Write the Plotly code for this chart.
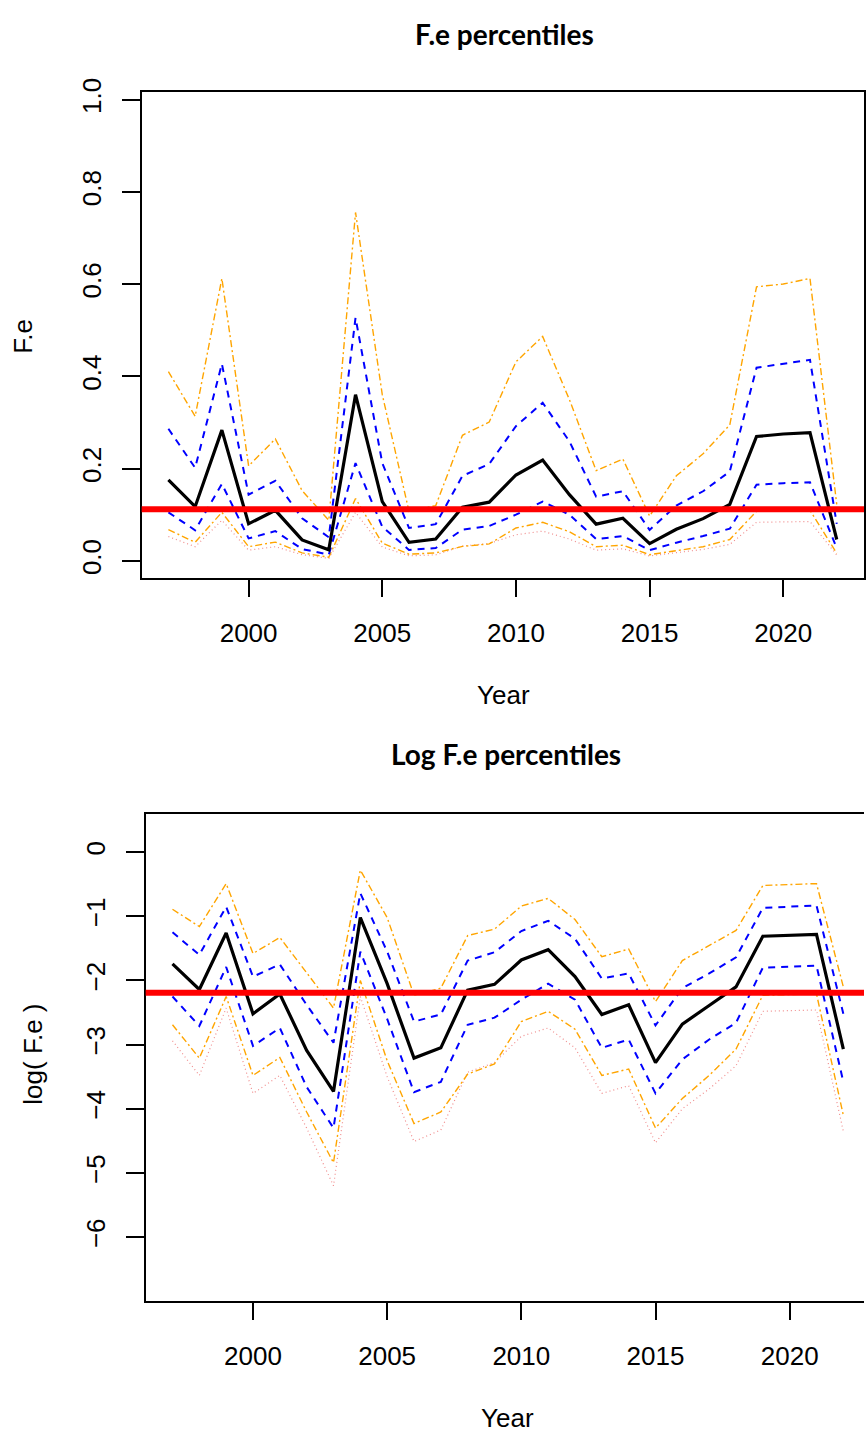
import numpy as np
import plotly.graph_objects as go

# ---- data: yearly percentiles of log(F.e) ----
years = list(range(1997, 2023))

log_p05 = [-2.94, -3.48, -2.43, -3.76, -3.48, -4.30, -5.20, -2.25, -3.50, -4.51,
           -4.33, -3.43, -3.28, -2.87, -2.74, -3.05, -3.76, -3.64, -4.53, -4.00,
           -3.69, -3.33, -2.48, -2.47, -2.46, -4.35]
log_p10 = [-2.69, -3.21, -2.25, -3.48, -3.20, -4.05, -4.84, -2.00, -3.25, -4.23,
           -4.05, -3.46, -3.30, -2.64, -2.48, -2.76, -3.48, -3.38, -4.30, -3.84,
           -3.48, -3.07, -2.23, -2.22, -2.21, -4.10]
log_p25 = [-2.25, -2.71, -1.79, -3.02, -2.74, -3.66, -4.30, -1.55, -2.60, -3.74,
           -3.58, -2.69, -2.58, -2.30, -2.05, -2.30, -3.05, -2.92, -3.76, -3.23,
           -2.92, -2.66, -1.80, -1.78, -1.77, -3.58]
log_p50 = [-1.74, -2.14, -1.26, -2.52, -2.21, -3.09, -3.73, -1.02, -2.05, -3.21,
           -3.05, -2.15, -2.06, -1.68, -1.52, -1.94, -2.53, -2.38, -3.28, -2.68,
           -2.39, -2.10, -1.31, -1.29, -1.28, -3.07]
log_p75 = [-1.25, -1.60, -0.85, -1.94, -1.75, -2.38, -2.97, -0.64, -1.55, -2.64,
           -2.53, -1.69, -1.56, -1.23, -1.07, -1.35, -1.97, -1.89, -2.70, -2.12,
           -1.89, -1.64, -0.87, -0.85, -0.83, -2.52]
log_p90 = [-0.89, -1.16, -0.49, -1.58, -1.33, -1.88, -2.43, -0.28, -1.02, -2.23,
           -2.12, -1.30, -1.20, -0.84, -0.72, -1.05, -1.63, -1.51, -2.33, -1.69,
           -1.46, -1.22, -0.52, -0.51, -0.49, -2.10]

f_ref = 0.112  # reference fishing mortality

x_ticks = [2000, 2005, 2010, 2015, 2020]
y_ticks_top = [0.0, 0.2, 0.4, 0.6, 0.8, 1.0]
y_ticks_top_text = ["0.0", "0.2", "0.4", "0.6", "0.8", "1.0"]
y_ticks_log = [0, -1, -2, -3, -4, -5, -6]
y_ticks_log_text = ["0", "\u22121", "\u22122", "\u22123", "\u22124", "\u22125", "\u22126"]

W, H = 866, 1433


def fx(p):
    return p / W


def fy(p):
    return 1 - p / H


styles = [
    (log_p05, dict(color="rgb(240,140,140)", width=1.2, dash="1px,3px")),
    (log_p10, dict(color="#FFA500", width=1.4, dash="7px,3px,2px,3px")),
    (log_p90, dict(color="#FFA500", width=1.4, dash="7px,3px,2px,3px")),
    (log_p25, dict(color="#0000FF", width=2.0, dash="7px,6px")),
    (log_p75, dict(color="#0000FF", width=2.0, dash="7px,6px")),
    (log_p50, dict(color="black", width=3.2)),
]

fig = go.Figure()
for vals, line in styles:
    v = np.array(vals)
    fig.add_trace(go.Scatter(x=years, y=np.exp(v), mode="lines", line=line,
                             xaxis="x", yaxis="y", showlegend=False, hoverinfo="skip"))
    fig.add_trace(go.Scatter(x=years, y=v, mode="lines", line=line,
                             xaxis="x2", yaxis="y2", showlegend=False, hoverinfo="skip"))

# reference line on both panels
fig.add_shape(type="line", xref="x domain", yref="y", x0=0, x1=1, y0=f_ref, y1=f_ref,
              line=dict(color="#FF0000", width=6))
fig.add_shape(type="line", xref="x2 domain", yref="y2", x0=0, x1=1,
              y0=float(np.log(f_ref)), y1=float(np.log(f_ref)),
              line=dict(color="#FF0000", width=6))

tick_font = dict(family="Liberation Sans, Arial, sans-serif", size=26, color="black")
common = dict(showgrid=False, zeroline=False, showline=True, linecolor="black",
              linewidth=1.6, ticks="outside", tickcolor="black", tickwidth=1.6,
              tickfont=tick_font)

fig.update_layout(
    width=W, height=H, margin=dict(l=0, r=0, t=0, b=0),
    paper_bgcolor="white", plot_bgcolor="white",
    xaxis=dict(domain=[fx(142), 1], range=[1996, 2023.02], anchor="y",
               tickvals=x_ticks, ticklen=17, mirror=True, ticklabelstandoff=14, **common),
    yaxis=dict(domain=[fy(570), fy(79)], range=[-0.038, 1.0165], anchor="x",
               tickvals=y_ticks_top, ticktext=y_ticks_top_text, tickangle=-90,
               ticklen=18, mirror=True, ticklabelstandoff=10, **common),
    xaxis2=dict(domain=[fx(146), 1], range=[1996, 2022.77], anchor="y2",
                tickvals=x_ticks, ticklen=17, mirror=True, ticklabelstandoff=14, **common),
    yaxis2=dict(domain=[fy(1300), fy(808)], range=[-7.0, 0.593], anchor="x2",
                tickvals=y_ticks_log, ticktext=y_ticks_log_text, tickangle=-90,
                ticklen=18, mirror=False, ticklabelstandoff=10, **common),
)

title_font = dict(family="Lato, Open Sans, sans-serif", size=28, color="black", weight="bold")
label_font = dict(family="Liberation Sans, Arial, sans-serif", size=26, color="black")

annotations = [
    dict(text="F.e percentiles", x=fx(506), y=fy(20), font=title_font),
    dict(text="Log F.e percentiles", x=fx(507), y=fy(747), font=title_font),
    dict(text="Year", x=fx(505), y=fy(688), font=label_font),
    dict(text="Year", x=fx(509), y=fy(1418), font=label_font),
    dict(text="F.e", x=fx(23), y=fy(325), font=label_font, textangle=-90),
    dict(text="log( F.e )", x=fx(33), y=fy(1050), font=label_font, textangle=-90),
]
for a in annotations:
    fig.add_annotation(xref="paper", yref="paper", showarrow=False,
                       xanchor="center", yanchor="middle", **a)

fig.write_html("out.html")
